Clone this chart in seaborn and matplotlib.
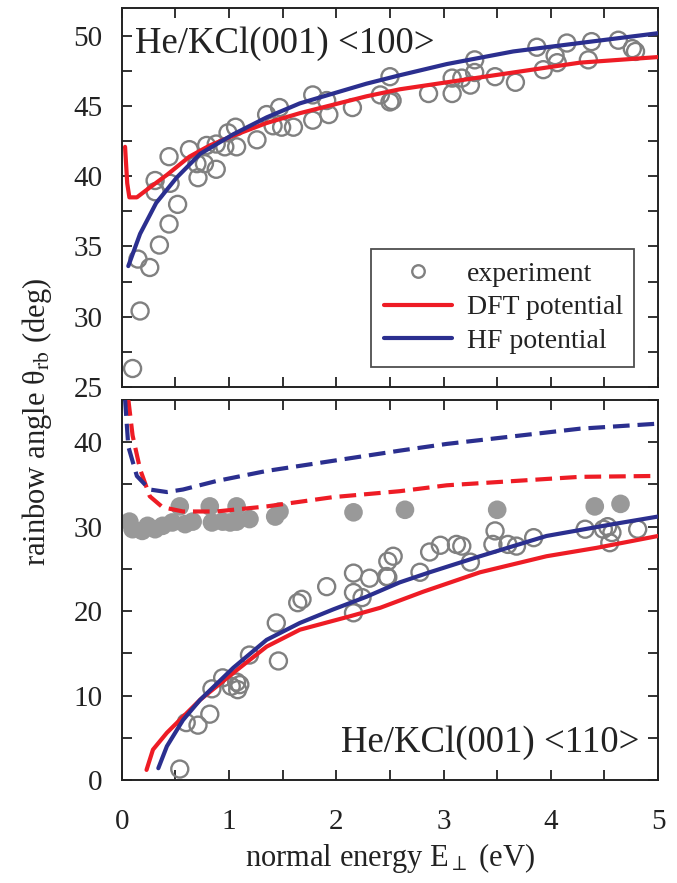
import matplotlib
matplotlib.use("Agg")
import matplotlib.pyplot as plt
import seaborn as sns
import pandas as pd
from matplotlib.ticker import MultipleLocator
from matplotlib.lines import Line2D

# ---- top panel: He/KCl(001) <100> ----
top_exp_x = [0.10, 0.17, 0.15, 0.26, 0.35, 0.44, 0.52, 0.31, 0.31, 0.44, 0.45, 0.63, 0.71, 0.70,
             0.77, 0.88, 0.79, 0.88, 0.96, 0.99, 1.06, 1.07, 1.26, 1.35, 1.41, 1.47, 1.49, 1.60,
             1.78, 1.78, 1.91, 1.93, 2.15, 2.41, 2.50, 2.52, 2.50, 2.86, 3.08, 3.08, 3.17, 3.25,
             3.29, 3.29, 3.48, 3.67, 3.87, 3.93, 4.04, 4.06, 4.15, 4.35, 4.38, 4.63, 4.76, 4.79]
top_exp_y = [26.3, 30.4, 34.1, 33.5, 35.1, 36.6, 38.0, 39.7, 38.9, 41.4, 39.5, 41.9, 39.9, 40.9,
             40.9, 40.5, 42.2, 42.3, 42.1, 43.1, 43.5, 42.1, 42.6, 44.4, 43.6, 44.9, 43.5, 43.5,
             45.8, 44.0, 45.4, 44.4, 44.9, 45.8, 47.1, 45.4, 45.3, 45.9, 47.0, 45.9, 47.0, 46.5,
             48.3, 47.4, 47.1, 46.7, 49.2, 47.6, 48.6, 48.1, 49.5, 48.3, 49.6, 49.7, 49.1, 48.9]

top_dft_x = [0.03, 0.05, 0.07, 0.14, 0.26, 0.42, 0.63, 0.82, 1.04, 1.35, 1.66, 1.97, 2.28, 2.59,
             3.03, 3.65, 4.27, 5.0]
top_dft_y = [42.1, 39.5, 38.5, 38.5, 39.2, 40.1, 41.4, 42.2, 42.9, 43.8, 44.5, 45.1, 45.7, 46.2,
             46.7, 47.4, 48.1, 48.5]

top_hf_x = [0.06, 0.17, 0.32, 0.51, 0.73, 1.04, 1.35, 1.66, 1.97, 2.28, 2.59, 3.03, 3.65, 4.27, 5.0]
top_hf_y = [33.6, 35.9, 38.1, 39.9, 41.6, 43.0, 44.2, 45.2, 45.9, 46.6, 47.2, 48.0, 48.9, 49.5, 50.2]

# ---- bottom panel: He/KCl(001) <110> ----
bot_open_x = [0.54, 0.60, 0.71, 0.82, 0.84, 0.94, 1.02, 1.07, 1.08, 1.10, 1.19, 1.46, 1.44, 1.64,
              1.68, 1.91, 2.16, 2.16, 2.16, 2.24, 2.31, 2.48, 2.53, 2.48, 2.47, 2.78, 2.87, 2.97,
              3.12, 3.17, 3.25, 3.46, 3.48, 3.60, 3.68, 3.84, 4.32, 4.49, 4.53, 4.57, 4.55, 4.81]
bot_open_y = [1.3, 6.8, 6.5, 7.8, 10.8, 12.1, 11.1, 11.6, 10.7, 11.3, 14.8, 14.1, 18.6, 21.0,
              21.4, 22.9, 24.5, 22.2, 19.8, 21.6, 23.9, 25.9, 26.5, 24.0, 24.1, 24.6, 27.0, 27.8,
              27.9, 27.7, 25.8, 27.9, 29.5, 27.9, 27.7, 28.7, 29.7, 29.7, 30.0, 29.3, 28.1, 29.7]

bot_fill_x = [0.07, 0.10, 0.19, 0.24, 0.31, 0.38, 0.47, 0.54, 0.59, 0.66, 0.82, 0.84, 0.94, 1.01,
              1.07, 1.07, 1.19, 1.43, 1.47, 2.16, 2.64, 3.50, 4.41, 4.65]
bot_fill_y = [30.6, 29.7, 29.5, 30.1, 29.7, 30.1, 30.5, 32.4, 30.3, 30.6, 32.4, 30.5, 30.6, 30.5,
              32.4, 30.6, 30.9, 31.2, 31.8, 31.7, 32.0, 32.0, 32.4, 32.7]

bot_dft_x = [0.23, 0.29, 0.42, 0.73, 1.04, 1.35, 1.66, 2.13, 2.41, 2.81, 3.34, 3.96, 4.43, 5.0]
bot_dft_y = [1.2, 3.6, 5.6, 9.5, 12.7, 15.8, 17.8, 19.4, 20.4, 22.3, 24.6, 26.5, 27.5, 28.9]

bot_hf_x = [0.34, 0.42, 0.57, 0.73, 1.04, 1.35, 1.66, 1.97, 2.28, 2.59, 2.87, 3.34, 3.96, 4.58, 5.0]
bot_hf_y = [1.4, 4.0, 7.1, 9.5, 13.3, 16.6, 18.6, 20.2, 21.7, 23.4, 24.6, 26.5, 28.9, 30.3, 31.2]

bot_dft_dash_x = [0.05, 0.06, 0.10, 0.17, 0.26, 0.38, 0.57, 0.88, 1.35, 1.97, 2.59, 3.03, 3.65, 4.27, 4.94]
bot_dft_dash_y = [48.0, 45.1, 40.8, 36.8, 33.6, 32.3, 31.8, 31.8, 32.4, 33.5, 34.2, 34.9, 35.4, 35.9, 36.0]

bot_hf_dash_x = [0.02, 0.03, 0.06, 0.14, 0.26, 0.42, 0.57, 0.88, 1.35, 1.97, 2.59, 3.03, 3.65, 4.27, 5.0]
bot_hf_dash_y = [48.0, 45.1, 39.5, 36.0, 34.4, 34.1, 34.4, 35.4, 36.6, 37.8, 39.0, 39.8, 40.7, 41.6, 42.2]

RED = "#ee1c25"
BLUE = "#2b2f8f"
GRAY = "#808080"
FILL = "#999999"
INK = "#222222"

sns.set_style("ticks")
plt.rcParams["font.family"] = ["Liberation Serif", "DejaVu Serif"]
plt.rcParams["mathtext.fontset"] = "stix"
plt.rcParams["font.size"] = 21

fig = plt.figure(figsize=(6.77, 8.83), dpi=100)
ax1 = fig.add_axes([0.180, 0.562, 0.792, 0.429])
ax2 = fig.add_axes([0.180, 0.1166, 0.792, 0.4304])

lw = 3.0
dash = (4.0, 1.9)
# top
sns.scatterplot(data=pd.DataFrame({"x": top_exp_x, "y": top_exp_y}), x="x", y="y", ax=ax1,
                marker="o", s=150, facecolor="none", edgecolor=GRAY, linewidth=1.7, zorder=2)
sns.lineplot(data=pd.DataFrame({"x": top_dft_x, "y": top_dft_y}), x="x", y="y", ax=ax1,
             color=RED, lw=lw, sort=False, zorder=3)
sns.lineplot(data=pd.DataFrame({"x": top_hf_x, "y": top_hf_y}), x="x", y="y", ax=ax1,
             color=BLUE, lw=lw, sort=False, zorder=4)

# bottom
sns.scatterplot(data=pd.DataFrame({"x": bot_fill_x, "y": bot_fill_y}), x="x", y="y", ax=ax2,
                marker="o", s=180, color=FILL, edgecolor="none", zorder=2)
sns.scatterplot(data=pd.DataFrame({"x": bot_open_x, "y": bot_open_y}), x="x", y="y", ax=ax2,
                marker="o", s=150, facecolor="none", edgecolor=GRAY, linewidth=1.7, zorder=2)
sns.lineplot(data=pd.DataFrame({"x": bot_dft_x, "y": bot_dft_y}), x="x", y="y", ax=ax2,
             color=RED, lw=lw, sort=False, zorder=3)
sns.lineplot(data=pd.DataFrame({"x": bot_hf_x, "y": bot_hf_y}), x="x", y="y", ax=ax2,
             color=BLUE, lw=lw, sort=False, zorder=4)
sns.lineplot(data=pd.DataFrame({"x": bot_dft_dash_x, "y": bot_dft_dash_y}), x="x", y="y", ax=ax2,
             color=RED, lw=lw, sort=False, zorder=3).lines[-1].set_dashes(dash)
sns.lineplot(data=pd.DataFrame({"x": bot_hf_dash_x, "y": bot_hf_dash_y}), x="x", y="y", ax=ax2,
             color=BLUE, lw=lw, sort=False, zorder=3).lines[-1].set_dashes(dash)

ax1.set_xlim(0, 5)
ax1.set_ylim(25, 52)
ax2.set_xlim(0, 5)
ax2.set_ylim(0, 45)

for ax in (ax1, ax2):
    ax.set_xlabel("")
    ax.set_ylabel("")
    ax.xaxis.set_major_locator(MultipleLocator(1))
    ax.xaxis.set_minor_locator(MultipleLocator(0.5))
    ax.tick_params(which="both", direction="in", top=True, right=True, width=1.3,
                   length=7, colors=INK, labelcolor=INK, labelsize=21)
    ax.tick_params(axis="x", pad=21)
    ax.tick_params(axis="y", pad=14)
    for sp in ax.spines.values():
        sp.set_linewidth(1.4)
        sp.set_color(INK)

ax1.yaxis.set_major_locator(MultipleLocator(5))
ax1.yaxis.set_minor_locator(MultipleLocator(2.5))
ax1.tick_params(axis="x", labelbottom=False)
ax2.yaxis.set_major_locator(MultipleLocator(10))
ax2.yaxis.set_minor_locator(MultipleLocator(5))

ax1.text(0.024, 0.905, "He/KCl(001) <100>", transform=ax1.transAxes, fontsize=26.5,
         va="center", ha="left", color=INK)
ax2.text(0.966, 0.097, "He/KCl(001) <110>", transform=ax2.transAxes, fontsize=26.5,
         va="center", ha="right", color=INK)

handles = [
    Line2D([], [], marker="o", ls="none", markerfacecolor="none", markeredgecolor=GRAY,
           markeredgewidth=1.7, markersize=9),
    Line2D([], [], color=RED, lw=lw),
    Line2D([], [], color=BLUE, lw=lw),
]
leg = ax1.legend(handles, ["experiment", "DFT potential", "HF potential"],
                 loc="lower left", bbox_to_anchor=(0.465, 0.053, 0.49, 0.324), mode="expand",
                 borderaxespad=0, fontsize=20, frameon=True, fancybox=False, edgecolor=INK,
                 handlelength=2.45, handletextpad=0.55, labelspacing=0.3, borderpad=0.45)
leg.get_frame().set_linewidth(1.3)
for t in leg.get_texts():
    t.set_color(INK)

fig.text(0.055, 0.522, r"rainbow angle θ$_{\rm rb}$ (deg)", rotation=90, ha="center",
         va="center", fontsize=22, color=INK)
fig.text(0.576, 0.028, r"normal energy E$_{\perp}$ (eV)", ha="center", va="center",
         fontsize=22, color=INK)

fig.savefig("out.png", dpi=100)
